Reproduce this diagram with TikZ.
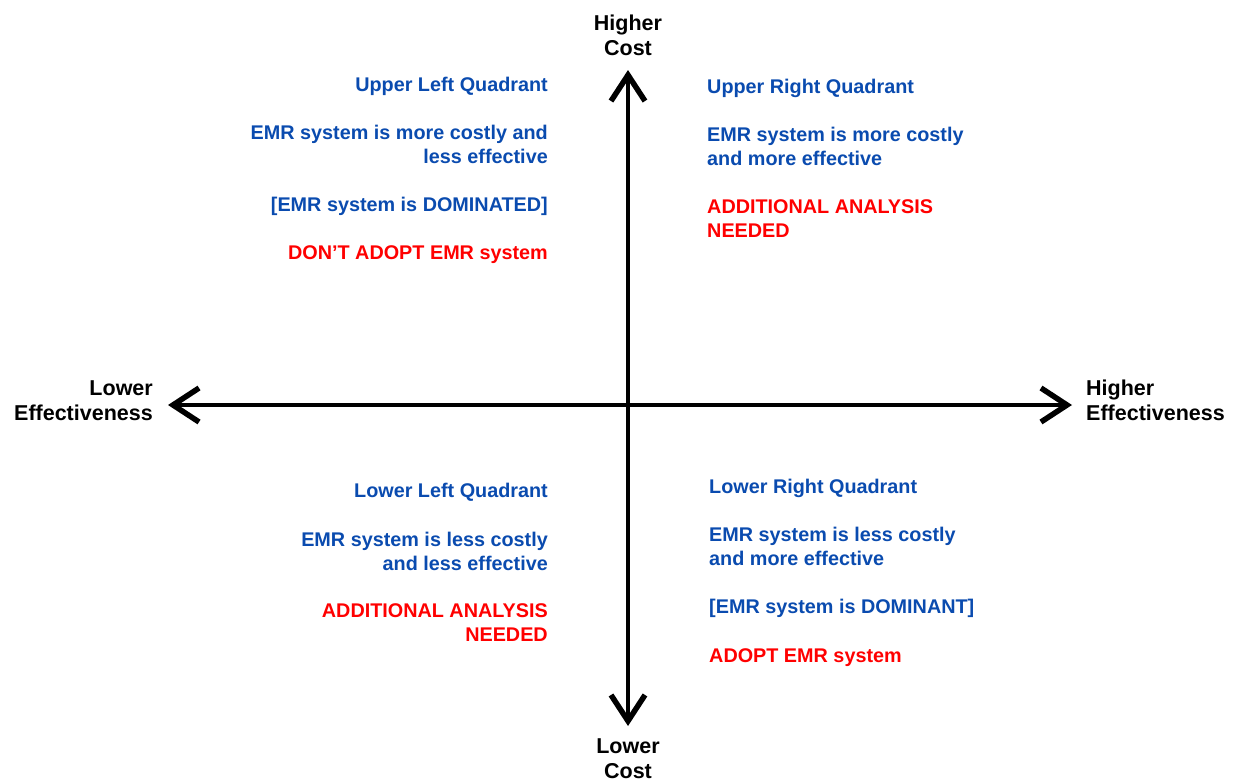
\documentclass[tikz,border=0pt]{standalone}
\usepackage{fontspec}
\setmainfont{Liberation Sans}
\usetikzlibrary{arrows.meta}
\definecolor{quadblue}{RGB}{10,75,175}
\definecolor{quadred}{RGB}{255,0,0}
\begin{document}
\begin{tikzpicture}[x=1pt, y=-1pt,
  every node/.style={font=\fontsize{19.8}{24}\selectfont\bfseries, inner sep=0pt},
  axislabel/.style={font=\fontsize{21.5}{25}\selectfont\bfseries},
  axis/.style={line width=4pt, {Straight Barb[length=26pt,width=34pt,line width=5.5pt]}-{Straight Barb[length=26pt,width=34pt,line width=5.5pt]}},
  lefttxt/.style={anchor=base east, align=right},
  righttxt/.style={anchor=base west, align=left},
  note/.style={text=quadblue},
  verdict/.style={text=quadred}]
\useasboundingbox (0,0) rectangle (1234,782);
% axes (multi-line nodes sit on their last line)
\node[axislabel, align=center, anchor=base] (hicost) at (628,55) {Higher\\Cost};
\node[axislabel, align=center, anchor=base] (locost) at (628,778) {Lower\\Cost};
\node[axislabel, lefttxt] (loeff) at (153,420) {Lower\\Effectiveness};
\node[axislabel, righttxt] (hieff) at (1086,420) {Higher\\Effectiveness};
\coordinate (top) at (628,70);
\coordinate (bottom) at (628,726);
\coordinate (left) at (168,405);
\coordinate (right) at (1072,405);
\draw[axis] (bottom) -- (top);
\draw[axis] (left) -- (right);
% upper left
\node[lefttxt,note] (ulhead) at (548,91) {Upper Left Quadrant};
\node[lefttxt,note] (ulbody) at (548,163) {EMR system is more costly and\\less effective};
\node[lefttxt,note] (uldom) at (548,211) {[EMR system is DOMINATED]};
\node[lefttxt,verdict] (ulact) at (548,259) {DON’T ADOPT EMR system};
% upper right
\node[righttxt,note] (urhead) at (707,93) {Upper Right Quadrant};
\node[righttxt,note] (urbody) at (707,165) {EMR system is more costly\\and more effective};
\node[righttxt,verdict] (uract) at (707,237) {ADDITIONAL ANALYSIS\\NEEDED};
% lower left
\node[lefttxt,note] (llhead) at (548,497) {Lower Left Quadrant};
\node[lefttxt,note] (llbody) at (548,570) {EMR system is less costly\\and less effective};
\node[lefttxt,verdict] (llact) at (548,641) {ADDITIONAL ANALYSIS\\NEEDED};
% lower right
\node[righttxt,note] (lrhead) at (709,493) {Lower Right Quadrant};
\node[righttxt,note] (lrbody) at (709,565) {EMR system is less costly\\and more effective};
\node[righttxt,note] (lrdom) at (709,613) {[EMR system is DOMINANT]};
\node[righttxt,verdict] (lract) at (709,662) {ADOPT EMR system};
\end{tikzpicture}
\end{document}
